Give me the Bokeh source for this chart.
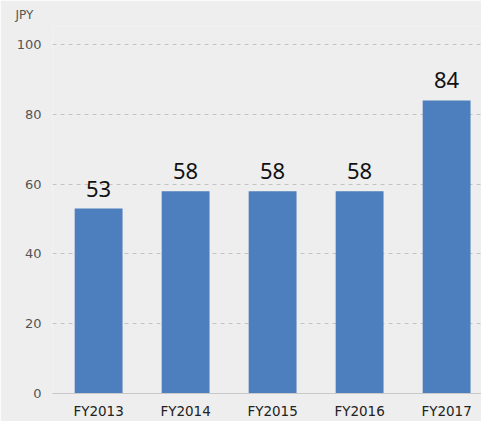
from bokeh.plotting import figure
from bokeh.models import Range1d, FixedTicker, ColumnDataSource
from bokeh.embed import file_html
from bokeh.resources import INLINE
from bokeh.core.properties import value

categories = ["FY2013", "FY2014", "FY2015", "FY2016", "FY2017"]
dividends = [53, 58, 58, 58, 84]
y_ticks = [0, 20, 40, 60, 80, 100]
unit_label = "JPY"

FONT = "DejaVu Sans"
BG = "#eeeeee"

xs = list(range(len(categories)))
src = ColumnDataSource(dict(x=xs, top=dividends, txt=[str(v) for v in dividends]))

p = figure(width=481, height=421, output_backend="svg", toolbar_location=None,
           x_range=Range1d(-0.53, -0.53 + 429 / 87), y_range=Range1d(0, 105.2),
           min_border_left=52, min_border_right=0, min_border_top=2, min_border_bottom=0)
p.background_fill_color = BG
p.border_fill_color = BG
p.outline_line_color = None

p.title.text = unit_label
p.title.align = "left"
p.title.offset = -37
p.title.text_font = FONT
p.title.text_font_size = "12px"
p.title.text_font_style = "normal"
p.title.text_color = "#555555"

p.vbar(x="x", top="top", width=0.55, bottom=0, source=src,
       fill_color="#4d7ebd", line_color=None)
p.text(x="x", y="top", text="txt", source=src, text_align="center",
       text_baseline="alphabetic", y_offset=-20, text_font=value("Noto Sans"),
       text_font_size="22px", text_color="#111111")

p.xaxis.ticker = FixedTicker(ticks=xs)
p.xaxis.major_label_overrides = {i: c for i, c in enumerate(categories)}
p.xaxis.axis_line_color = "#c8c8c8"
p.xaxis.major_tick_line_color = None
p.xaxis.minor_tick_line_color = None
p.xaxis.major_tick_out = 0
p.xaxis.major_tick_in = 0
p.xaxis.major_label_standoff = 9
p.xaxis.major_label_text_font = FONT
p.xaxis.major_label_text_font_size = "13.5px"
p.xaxis.major_label_text_color = "#222222"

p.yaxis.ticker = FixedTicker(ticks=y_ticks)
p.yaxis.axis_line_color = None
p.yaxis.major_tick_line_color = None
p.yaxis.minor_tick_line_color = None
p.yaxis.major_tick_out = 0
p.yaxis.major_tick_in = 0
p.yaxis.major_label_standoff = 11
p.yaxis.major_label_text_font = FONT
p.yaxis.major_label_text_font_size = "13px"
p.yaxis.major_label_text_color = "#555555"

p.xgrid.grid_line_color = None
p.ygrid.grid_line_color = "#c4c4c4"
p.ygrid.grid_line_dash = "4 4"

open("out.html", "w").write(file_html(p, INLINE))
